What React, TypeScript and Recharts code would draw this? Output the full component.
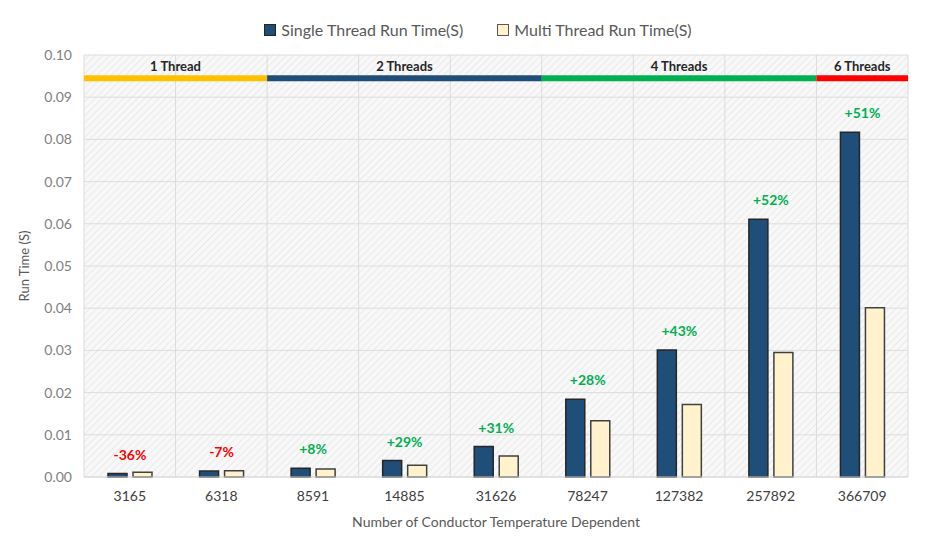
import React from 'react';
import * as R from 'recharts';
import {
  BarChart,
  Bar,
  XAxis,
  YAxis,
  CartesianGrid,
  Legend,
  LabelList,
  Label,
} from 'recharts';

const conductors = ['3165', '6318', '8591', '14885', '31626', '78247', '127382', '257892', '366709'];
const singleTimes = [0.0008, 0.0014, 0.0021, 0.0039, 0.0072, 0.0184, 0.0301, 0.0611, 0.0817];
const multiTimes = [0.0011, 0.0015, 0.0019, 0.0028, 0.005, 0.0133, 0.0172, 0.0295, 0.0401];
const speedups = ['-36%', '-7%', '+8%', '+29%', '+31%', '+28%', '+43%', '+52%', '+51%'];
const yTicks = [0, 0.01, 0.02, 0.03, 0.04, 0.05, 0.06, 0.07, 0.08, 0.09, 0.1];
const yMax = 0.1;

// thread groups, start/end given as category slot indexes
const bandNames = ['1 Thread', '2 Threads', '4 Threads', '6 Threads'];
const bandStart = [0, 2, 5, 8];
const bandEnd = [2, 5, 8, 9];
const bandColors = ['#FFC000', '#1F4E79', '#00B050', '#FF0000'];
const bandLevel = 0.0945;

const slotTicks = [0, 1, 2, 3, 4, 5, 6, 7, 8, 9];

const data = conductors.map((c, i) => ({
  name: c,
  single: singleTimes[i],
  multi: multiTimes[i],
  gain: speedups[i],
}));

const FONT = 'Lato, "Open Sans", sans-serif';

const usePlot: () => any =
  (R as any).usePlotArea ||
  (() => {
    const o = (R as any).useOffset ? (R as any).useOffset() : null;
    return o ? { x: o.left, y: o.top, width: o.width, height: o.height } : null;
  });

// colored thread-count strips across the top of the plot
const ThreadBands = () => {
  const plot = usePlot();
  if (!plot) return null;
  const n = conductors.length;
  const slot = plot.width / n;
  const lineY = plot.y + (1 - bandLevel / yMax) * plot.height;
  return (
    <g>
      {bandNames.map((name, i) => {
        const x1 = plot.x + bandStart[i] * slot;
        const x2 = plot.x + bandEnd[i] * slot;
        return (
          <g key={name}>
            <line x1={x1} x2={x2} y1={lineY} y2={lineY} stroke={bandColors[i]} strokeWidth={6} />
            <text
              x={(x1 + x2) / 2}
              y={(plot.y + lineY) / 2 - 1}
              textAnchor="middle"
              dominantBaseline="central"
              fill="#262626"
              fontSize={13}
              fontWeight="bold"
              fontFamily={FONT}
            >
              {name}
            </text>
          </g>
        );
      })}
    </g>
  );
};

const GainLabel = (props: any) => {
  const { x, y, width, value } = props;
  const neg = String(value).startsWith('-');
  return (
    <text
      x={x + width + 3}
      y={y - 14}
      textAnchor="middle"
      fill={neg ? '#FF0000' : '#00B050'}
      fontSize={14}
      fontWeight="bold"
      fontFamily={FONT}
    >
      {value}
    </text>
  );
};

const LegendContent = () => (
  <div
    style={{
      display: 'flex',
      justifyContent: 'center',
      gap: 34,
      fontFamily: FONT,
      fontSize: 16,
      color: '#595959',
      paddingLeft: 40,
    }}
  >
    <span style={{ display: 'flex', alignItems: 'center' }}>
      <span
        style={{
          width: 10,
          height: 10,
          background: '#1F4E79',
          border: '1px solid #262626',
          marginRight: 5,
        }}
      />
      Single Thread Run Time(S)
    </span>
    <span style={{ display: 'flex', alignItems: 'center' }}>
      <span
        style={{
          width: 10,
          height: 10,
          background: '#FFF2CC',
          border: '1px solid #595959',
          marginRight: 5,
        }}
      />
      Multi Thread Run Time(S)
    </span>
  </div>
);

export default function App() {
  return (
    <BarChart
      width={924}
      height={539}
      data={data}
      margin={{ top: 12, right: 24, left: 0, bottom: 0 }}
      barGap={6}
      barSize={19}
    >
      <defs>
        <pattern id="hatch" width="5" height="5" patternUnits="userSpaceOnUse" patternTransform="rotate(45)">
          <rect width="5" height="5" fill="#f8f8f8" />
          <line x1="0" y1="0" x2="0" y2="5" stroke="#e6e6e6" strokeWidth="1.5" />
        </pattern>
      </defs>
      <Legend verticalAlign="top" height={35} content={<LegendContent />} />
      <CartesianGrid
        fill="url(#hatch)"
        stroke="#dcdcdc"
        strokeWidth={1}
        verticalCoordinatesGenerator={({ offset }: any) =>
          slotTicks.map((i) => offset.left + (i * offset.width) / conductors.length)
        }
      />
      <XAxis
        dataKey="name"
        height={70}
        tickLine={false}
        axisLine={{ stroke: '#d9d9d9' }}
        tick={{ fill: '#404040', fontSize: 14, fontFamily: FONT }}
        tickMargin={8}
      >
        <Label
          value="Number of Conductor Temperature Dependent"
          position="insideBottom"
          offset={20}
          fill="#595959"
          fontSize={14}
          fontFamily={FONT}
        />
      </XAxis>
      <YAxis
        width={76}
        domain={[0, yMax]}
        ticks={yTicks}
        tickFormatter={(v: number) => v.toFixed(2)}
        tickLine={false}
        axisLine={false}
        tickSize={0}
        tickMargin={12}
        tick={{ fill: '#7f7f7f', fontSize: 14, fontFamily: FONT }}
      >
        <Label
          value="Run Time (S)"
          angle={-90}
          position="center"
          dx={-22}
          fill="#595959"
          fontSize={13}
          fontFamily={FONT}
        />
      </YAxis>
      <ThreadBands />
      <Bar dataKey="single" fill="#1F4E79" stroke="#262626" strokeWidth={1.5} isAnimationActive={false}>
        <LabelList dataKey="gain" content={<GainLabel />} />
      </Bar>
      <Bar dataKey="multi" fill="#FFF2CC" stroke="#404040" strokeWidth={1.5} isAnimationActive={false} />
    </BarChart>
  );
}
